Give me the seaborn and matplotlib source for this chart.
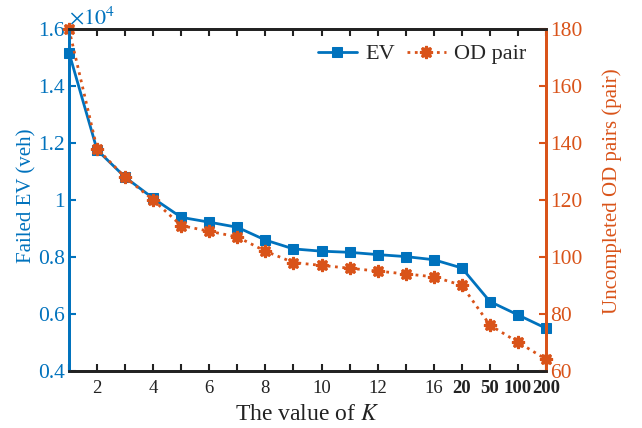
import numpy as np
import pandas as pd
import matplotlib
matplotlib.use("Agg")
import matplotlib.pyplot as plt
import seaborn as sns

# ---- data ----
k_positions = list(range(1, 19))
k_tick_pos = [2, 4, 6, 8, 10, 12, 14, 15, 16, 17, 18]
k_tick_labels = ["2", "4", "6", "8", "10", "12", "16", "20", "50", "100", "200"]
bold_labels = ["20", "50", "100", "200"]
ev_failed = [1.518, 1.176, 1.080, 1.006, 0.939, 0.922, 0.904, 0.859, 0.828,
             0.820, 0.816, 0.808, 0.801, 0.790, 0.761, 0.643, 0.596, 0.549]
od_uncompleted = [180, 138, 128, 120, 111, 109, 107, 102, 98, 97, 96, 95, 94,
                  93, 90, 76, 70, 64]

BLUE = "#0072BD"
ORANGE = "#D95319"

sns.set_theme(style="white")
plt.rcParams["font.family"] = ["Liberation Serif", "DejaVu Serif"]
plt.rcParams["mathtext.fontset"] = "stix"

fig = plt.figure(figsize=(6.42, 4.28), dpi=100)
ax = fig.add_axes([0.1075, 0.134, 0.743, 0.7975])
ax2 = ax.twinx()

df = pd.DataFrame({"k": k_positions, "ev": ev_failed, "od": od_uncompleted})

sns.lineplot(data=df, x="k", y="ev", ax=ax, color=BLUE, linewidth=2,
             marker="s", markersize=7, markeredgecolor=BLUE, label="EV",
             clip_on=False, legend=False)
sns.lineplot(data=df, x="k", y="od", ax=ax2, color=ORANGE, linewidth=2,
             linestyle=":", marker=(8, 1, 0), markersize=9,
             markeredgewidth=1.8, markeredgecolor=ORANGE, label="OD pair",
             clip_on=False, legend=False)

ax.set_xlim(1, 18)
ax.set_ylim(0.4, 1.6)
ax2.set_ylim(60, 180)

ax.set_yticks([0.4, 0.6, 0.8, 1.0, 1.2, 1.4, 1.6])
ax.set_yticklabels(["0.4", "0.6", "0.8", "1", "1.2", "1.4", "1.6"])
ax2.set_yticks([60, 80, 100, 120, 140, 160, 180])

ax.set_xticks(k_positions, minor=True)
ax.set_xticks(k_tick_pos)
ax.set_xticklabels(k_tick_labels)
for lab in ax.get_xticklabels():
    if lab.get_text() in bold_labels:
        lab.set_fontweight("bold")

xfs = 13.5
yfs = 15.5
ax.tick_params(axis="x", which="both", direction="in", length=5, width=1.5,
               top=True, bottom=True, labelsize=xfs, colors="#222222", pad=7)
ax.tick_params(axis="x", which="minor", labelbottom=False)
ax.tick_params(axis="y", direction="in", length=5, width=1.5, colors=BLUE,
               labelsize=yfs, left=True, pad=3)
ax2.tick_params(axis="y", direction="in", length=5, width=1.5, colors=ORANGE,
                labelsize=yfs, right=True, pad=3)

ax.set_xlabel("The value of $K$", fontsize=17, color="#222222", labelpad=5)
ax.set_ylabel("Failed EV (veh)", fontsize=15, color=BLUE)
ax2.set_ylabel("Uncompleted OD pairs (pair)", fontsize=15, color=ORANGE)
ax.yaxis.set_label_coords(-0.068, 0.512)
ax2.yaxis.set_label_coords(1.117, 0.526)

for a in (ax, ax2):
    a.spines["top"].set_color("#222222")
    a.spines["bottom"].set_color("#222222")
    a.spines["left"].set_color(BLUE)
    a.spines["right"].set_color(ORANGE)
    for s in a.spines.values():
        s.set_linewidth(2)

ax.text(0.0, 1.0, r"$\times10^4$", transform=ax.transAxes, fontsize=16,
        color=BLUE, ha="left", va="bottom")

h1, l1 = ax.get_legend_handles_labels()
h2, l2 = ax2.get_legend_handles_labels()
ax2.legend(h1 + h2, l1 + l2, loc="upper right", ncol=2, frameon=False,
           fontsize=16, handlelength=1.75, columnspacing=0.55,
           handletextpad=0.36, bbox_to_anchor=(1.0, 1.016))

fig.savefig("out.png", dpi=100)
